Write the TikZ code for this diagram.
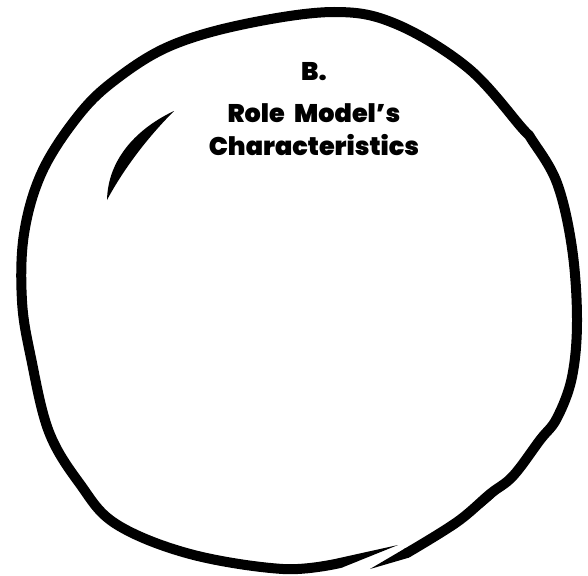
\documentclass[tikz,border=0pt]{standalone}
\usepackage{fontspec}
\setmainfont{Poppins}[BoldFont={Poppins Black}]
\usetikzlibrary{positioning}

\begin{document}
\begin{tikzpicture}[x=1pt, y=-1pt, line join=round, line cap=round,
  every node/.style={align=center, inner sep=0pt, font=\bfseries\fontsize{25.5}{33}\selectfont},
  ring/.style={draw=black, line width=10pt}]
\useasboundingbox (0,0) rectangle (588,575);
% hand drawn ring
\draw[ring] plot[smooth, tension=0.6] coordinates {(407,553) (457,522) (490,494) (513,476)
  (540,440) (557,418) (572,377) (577,320) (572,248) (557,183) (532,140) (522,128) (468,68) (396,24)
  (334,12) (245,24) (170,46) (115,80) (78,116) (42,172) (24,234) (22,301) (31,358) (49,432) (80,484)
  (116,524) (190,554) (283,569) (340,563)};
% tapered ends and thick part
\fill (405,548.4) -- (370,569) -- (409,557.6) -- cycle;
\fill (338.5,558.2) -- (398,545) -- (341.5,567.8) -- cycle;
\fill (458,524) .. controls (480,510) and (500,498) .. (542,442)
  .. controls (520,470) and (500,480) .. cycle;
% highlight
\fill (174,111) .. controls (138,128) and (108,158) .. (107,200)
  .. controls (122,172) and (145,140) .. cycle;
\node (letter) at (314,72) {B.};
\node[below=22pt of letter] (title) {Role\hspace{5pt} Model’s\\Characteristics};
\end{tikzpicture}
\end{document}
